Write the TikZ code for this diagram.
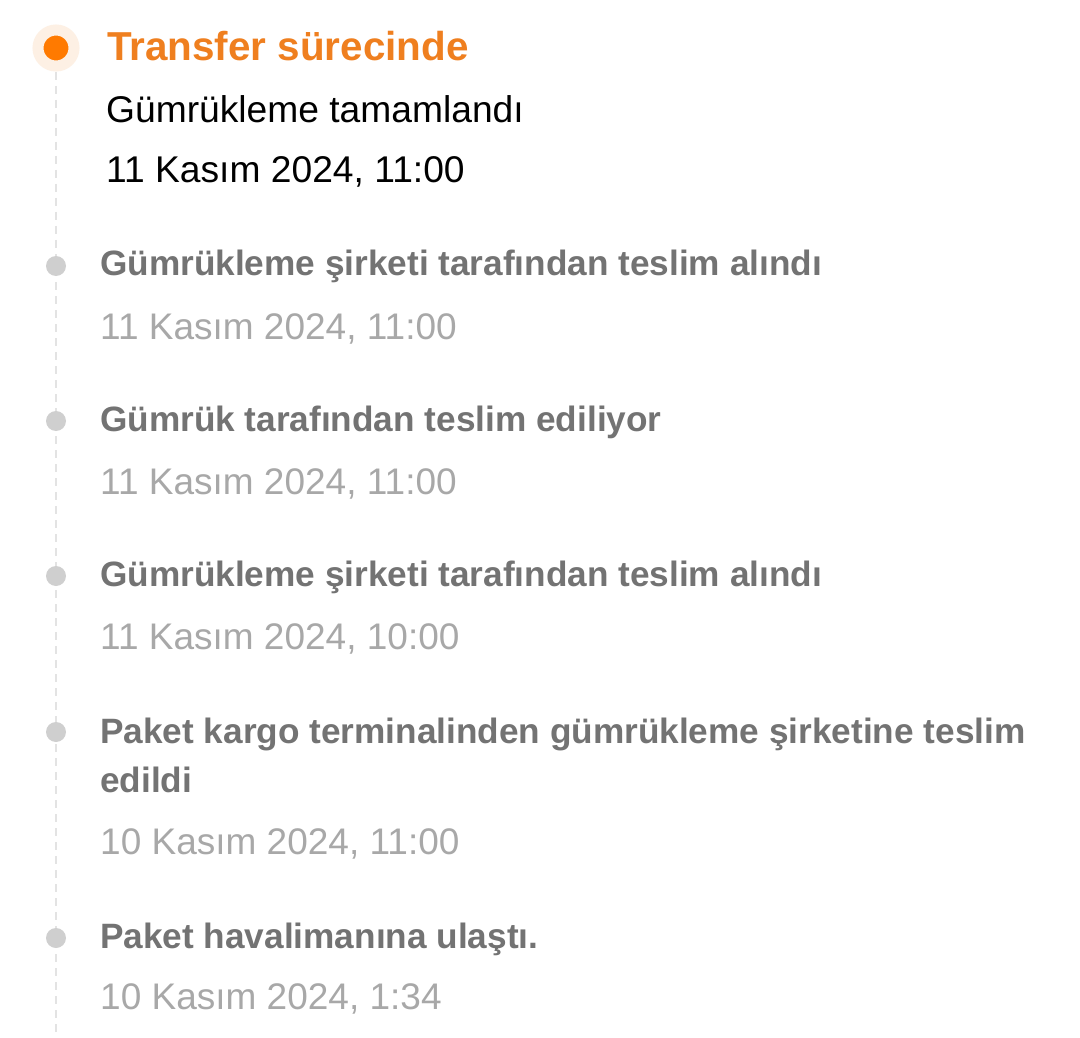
\documentclass[tikz,border=0pt]{standalone}
\usepackage{fontspec}
\setmainfont{Liberation Sans}
\usetikzlibrary{positioning}

\definecolor{trOrange}{HTML}{FF7A00}
\definecolor{trOrangeTxt}{HTML}{EF7F1F}
\definecolor{trHalo}{HTML}{FDF0E4}
\definecolor{trGray}{HTML}{737373}
\definecolor{trDate}{HTML}{A8A8A8}
\definecolor{trDot}{HTML}{CFCFCF}
\definecolor{trLine}{HTML}{E3E3E3}

\begin{document}
\begin{tikzpicture}
  [x=1pt,y=-1pt,
   txtN/.style={inner sep=0pt,anchor=base west,align=left},
   headN/.style={txtN,font=\fontsize{40.4}{48}\selectfont\bfseries,text=trOrangeTxt},
   subN/.style={txtN,font=\fontsize{37.2}{48}\selectfont,text=black},
   stepN/.style={txtN,font=\fontsize{35.2}{49}\selectfont\bfseries,text=trGray},
   dateN/.style={txtN,font=\fontsize{37}{48}\selectfont,text=trDate},
   dotN/.style={circle,fill=trDot,minimum size=20pt,inner sep=0pt},
   curN/.style={circle,fill=trOrange,draw=trHalo,line width=11pt,minimum size=36pt,inner sep=0pt},
  ]

 \useasboundingbox[fill=white] (0,0) rectangle (1080,1038);

 % timeline
 \coordinate (lineTop) at (56,72);
 \coordinate (lineEnd) at (56,1038);
 \draw[trLine,line width=2pt,dash pattern=on 8pt off 6pt] (lineTop) -- (lineEnd);

 % current state
 \node[curN] (cur) at (56,48) {};
 \node[headN] (head) at (107,61) {Transfer sürecinde};
 \node[subN] (sub) at (106,123) {Gümrükleme tamamlandı};
 \node[subN] (subDate) at (106,183) {11 Kasım 2024, 11:00};

 % earlier steps
 \node[dotN] (dotA) at (56,266) {};
 \node[stepN] (stepA) at (100,276) {Gümrükleme şirketi tarafından teslim alındı};
 \node[dateN] (dateA) at (100,339) {11 Kasım 2024, 11:00};

 \node[dotN] (dotB) at (56,421) {};
 \node[stepN] (stepB) at (100,431) {Gümrük tarafından teslim ediliyor};
 \node[dateN] (dateB) at (100,494) {11 Kasım 2024, 11:00};

 \node[dotN] (dotC) at (56,576) {};
 \node[stepN] (stepC) at (100,586) {Gümrükleme şirketi tarafından teslim alındı};
 \node[dateN] (dateC) at (100,649) {11 Kasım 2024, 10:00};

 \node[dotN] (dotD) at (56,732) {};
 \node[stepN] (stepD) at (100,743) {Paket kargo terminalinden gümrükleme şirketine teslim};
 \node[stepN] (stepDb) at (100,792) {edildi};
 \node[dateN] (dateD) at (100,854) {10 Kasım 2024, 11:00};

 \node[dotN] (dotE) at (56,938) {};
 \node[stepN] (stepE) at (100,948) {Paket havalimanına ulaştı.};
 \node[dateN] (dateE) at (100,1009) {10 Kasım 2024, 1:34};
\end{tikzpicture}
\end{document}
